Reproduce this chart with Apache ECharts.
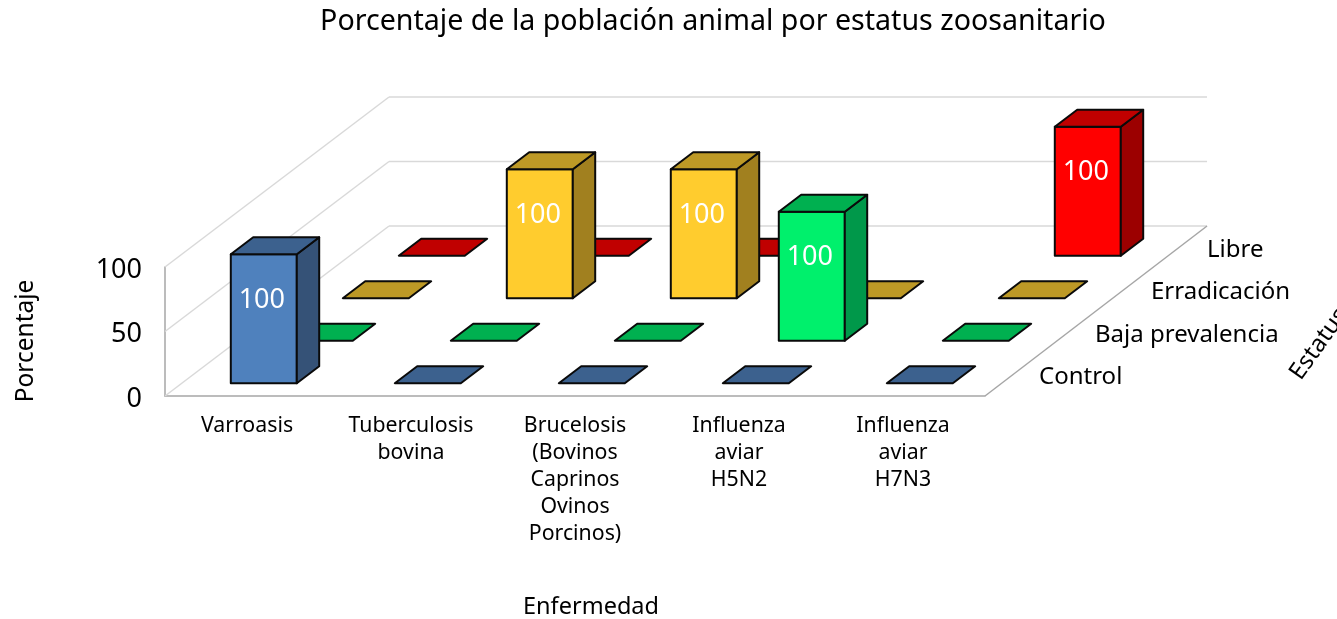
<!DOCTYPE html>
<html>
<head>
<meta charset="utf-8">
<style>html,body{margin:0;padding:0;background:#fff;overflow:hidden}#c{width:1337px;height:619px}</style>
<script src="https://cdn.jsdelivr.net/npm/echarts@6/dist/echarts.min.js"></script>
</head>
<body>
<div id="c"></div>
<script>
var titleText = 'Porcentaje de la población animal por estatus zoosanitario';
var categories = ['Varroasis', 'Tuberculosis\nbovina', 'Brucelosis\n(Bovinos\nCaprinos\nOvinos\nPorcinos)', 'Influenza\naviar\nH5N2', 'Influenza\naviar\nH7N3'];
var statuses = ['Control', 'Baja prevalencia', 'Erradicación', 'Libre'];
var control = [100, 0, 0, 0, 0];
var bajaPrevalencia = [0, 0, 0, 100, 0];
var erradicacion = [0, 100, 100, 0, 0];
var libre = [0, 0, 0, null, 100];
var yTicks = [0, 50, 100];

var FONT = 'Noto Sans';
var TEXT = '#000';
var DEPTH_X = 56 / 164;          // horizontal shift per row, in category bands
var DEPTH_Y = 42.5 / 1.29;       // vertical shift per row, in value units
var ROWS = statuses.length;
var HALF_W = 33 / 164;
var BAR_FRONT = 0.3, BAR_BACK = 0.7;

var rowSeries = [
  {values: control,         row: 0, front: '#4F81BD', top: '#3C618E', side: '#355277'},
  {values: bajaPrevalencia, row: 1, front: '#00F06C', top: '#00B050', side: '#00984A'},
  {values: erradicacion,    row: 2, front: '#FFCC2E', top: '#BD9926', side: '#A1801F'},
  {values: libre,           row: 3, front: '#FF0000', top: '#C00000', side: '#9C0000'}
];

// oblique projection: category position, value and depth through the axes' own scales
function projector(api) {
  var o = api.coord([0, 0]);
  var band = api.coord([1, 0])[0] - o[0];
  var unit = o[1] - api.coord([0, 1])[1];
  return function (cat, val, depth) {
    return [o[0] + cat * band + depth * DEPTH_X * band, o[1] - val * unit - depth * DEPTH_Y * unit];
  };
}

function poly(points, fill, stroke, width) {
  return {type: 'polygon', shape: {points: points},
    style: {fill: fill, stroke: stroke, lineWidth: width, lineJoin: 'round'}};
}
function seg(a, b, color, width) {
  return {type: 'line', shape: {x1: a[0], y1: a[1], x2: b[0], y2: b[1]},
    style: {stroke: color, lineWidth: width, fill: null}};
}

function renderWall(params, api) {
  var p = projector(api), v = api.value(1);
  var L = -0.5, R = categories.length - 0.5, Rb = R - 0.012;
  var kids = [seg(p(L, v, 0), p(L, v, ROWS), '#D9D9D9', 1.5),
              seg(p(L, v, ROWS), p(Rb, v, ROWS), '#D9D9D9', 1.5)];
  if (v === 0) kids.push(seg(p(R, 0, 0), p(Rb, 0, ROWS), '#A6A6A6', 1.5));
  return {type: 'group', silent: true, children: kids};
}

function renderBar(params, api) {
  var p = projector(api);
  var cat = api.value(0), v = api.value(1), r = api.value(2), c = rowSeries[r];
  var l = cat - HALF_W, h = cat + HALF_W, f = r + BAR_FRONT, b = r + BAR_BACK;
  var kids = [];
  var width = 2, ink = '#0a0a0a';
  if (v > 0) {
    kids.push(poly([p(l, 0, f), p(h, 0, f), p(h, v, f), p(l, v, f)], c.front, ink, width));
    kids.push(poly([p(h, 0, f), p(h, 0, b), p(h, v, b), p(h, v, f)], c.side, ink, width));
    kids.push(poly([p(l, v, f), p(h, v, f), p(h, v, b), p(l, v, b)], c.top, ink, width));
    var lp = p(cat, v - 33.3, f);
    kids.push({type: 'text', x: lp[0] - 2, y: lp[1] + 3, style: {text: String(v), fill: '#fff',
      font: '27px "' + FONT + '"', align: 'center', verticalAlign: 'middle'}});
  } else {
    kids.push(poly([p(l, 0, f), p(h, 0, f), p(h, 0, b), p(l, 0, b)], c.top, ink, width));
  }
  return {type: 'group', silent: true, children: kids};
}

function renderStatus(params, api) {
  var p = projector(api), j = api.value(0);
  var q = p(categories.length - 0.5, 0, j + 0.5);
  return {type: 'text', silent: true, x: q[0] + 26, y: q[1] + 2.5, style: {text: statuses[j], fill: TEXT,
    font: '24px "' + FONT + '"', align: 'left', verticalAlign: 'middle'}};
}

function renderStatusName(params, api) {
  var p = projector(api);
  var q = p(categories.length - 0.5, 0, ROWS / 2);
  return {type: 'text', silent: true, x: q[0] + 222, y: q[1] + 33, rotation: 0.95,
    style: {text: 'Estatus', fill: TEXT, font: '24px "' + FONT + '"', align: 'center', verticalAlign: 'middle'}};
}

var series = [{
  type: 'custom', coordinateSystem: 'cartesian2d', renderItem: renderWall, clip: false, silent: true,
  data: yTicks.map(function (t) { return [0, t]; }), z: 1
}];
rowSeries.slice().reverse().forEach(function (s, k) {
  var data = [];
  s.values.forEach(function (v, i) { if (v !== null) data.push([i, v, s.row]); });
  series.push({type: 'custom', coordinateSystem: 'cartesian2d', renderItem: renderBar, clip: false,
    silent: true, data: data, z: 2 + k, encode: {x: 0, y: 1}});
});
series.push({type: 'custom', coordinateSystem: 'cartesian2d', renderItem: renderStatus, clip: false, silent: true,
  data: statuses.map(function (s, j) { return [j, 0]; }), z: 8, encode: {x: 0, y: 1}});
series.push({type: 'custom', coordinateSystem: 'cartesian2d', renderItem: renderStatusName, clip: false, silent: true,
  data: [[0, 0]], z: 8});

var chart = echarts.init(document.getElementById('c'), null, {renderer: 'canvas'});
chart.setOption({
  animation: false,
  backgroundColor: '#fff',
  title: {text: titleText, left: 708, top: 2, textAlign: 'center',
    textStyle: {fontFamily: FONT, fontSize: 28.6, fontWeight: 'normal', color: TEXT}},
  grid: {left: 165, top: 267, width: 820, height: 129, containLabel: false, outerBoundsMode: 'none'},
  xAxis: {type: 'category', data: categories, boundaryGap: true,
    name: 'Enfermedad', nameLocation: 'middle', nameGap: 199,
    nameTextStyle: {fontFamily: FONT, fontSize: 23.5, color: TEXT, padding: [0, 0, 0, 32]},
    axisLine: {show: true, lineStyle: {color: '#A6A6A6', width: 1.5}},
    axisTick: {show: false},
    axisLabel: {interval: 0, margin: 16, fontFamily: FONT, fontSize: 21.3, lineHeight: 27, color: TEXT},
    splitLine: {show: false}},
  yAxis: {type: 'value', min: 0, max: 100, interval: 50,
    name: 'Porcentaje', nameLocation: 'middle', nameGap: 126, nameRotate: 90,
    nameTextStyle: {fontFamily: FONT, fontSize: 24.5, color: TEXT, padding: [0, 19, 0, 0]},
    axisLine: {show: true, lineStyle: {color: '#A6A6A6', width: 1.5}},
    axisTick: {show: false},
    axisLabel: {margin: 23, color: TEXT, formatter: '{t|{value}}',
      rich: {t: {fontFamily: FONT, fontSize: 27, color: TEXT, padding: [6, 0, 0, 0]}}},
    splitLine: {show: false}},
  series: series
});
</script>
</body>
</html>
